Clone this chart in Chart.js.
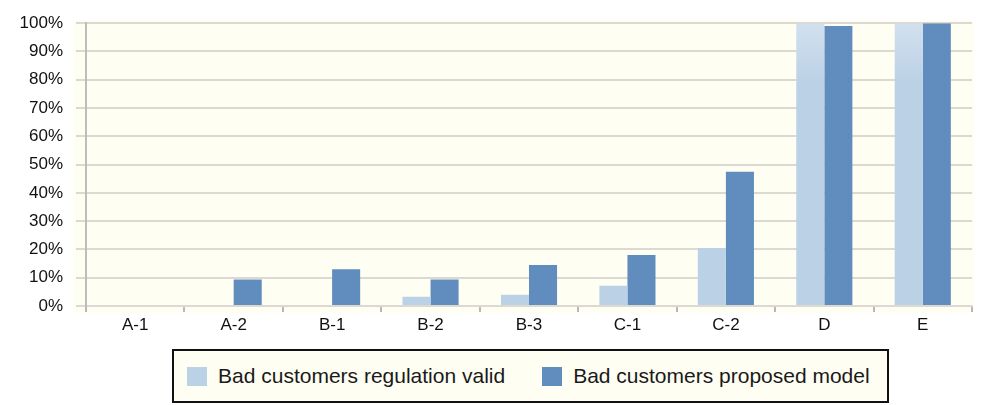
<!DOCTYPE html>
<html>
<head>
<meta charset="utf-8">
<script src="https://cdn.jsdelivr.net/npm/chart.js@4/dist/chart.umd.min.js"></script>
<style>
    html, body { margin: 0; padding: 0; background: #fff; }
    body { width: 983px; height: 405px; position: relative; overflow: hidden; font-family: "Liberation Sans", Arial, Helvetica, sans-serif; }
    .chart-wrap { position: absolute; left: 0; top: 0; width: 983px; height: 340px; }
    .legend-box {
        position: absolute; left: 172px; top: 349px; width: 717px; height: 54px;
        box-sizing: border-box; border: 2px solid #111; background: #fffef3;
        display: flex; align-items: center; padding-left: 13px;
        font-size: 21px; color: #1a1a1a;
    }
    .legend-item { display: flex; align-items: center; margin-right: 37px; white-space: nowrap; }
    .legend-swatch { width: 20px; height: 19px; margin-right: 11px; }
</style>
</head>
<body>
<div class="chart-wrap"><canvas id="ratingChart"></canvas></div>
<div class="legend-box" id="legendBox"></div>

<script>
// ---- data ----
const categories = ['A-1', 'A-2', 'B-1', 'B-2', 'B-3', 'C-1', 'C-2', 'D', 'E'];
const regulationValid = [0, 0, 0, 3.3, 4, 7.2, 20.5, 100, 100];
const proposedModel = [0, 9.4, 13, 9.4, 14.5, 18, 47.5, 99, 100];
const seriesNames = ['Bad customers regulation valid', 'Bad customers proposed model'];
const seriesColors = ['#bbd1e6', '#608dbd'];

// light yellow plot background, a bit wider than the chart area
const plotBackground = {
    id: 'plotBackground',
    beforeDraw(chart) {
        const { ctx, chartArea: a } = chart;
        ctx.save();
        ctx.fillStyle = '#fffef3';
        ctx.fillRect(a.left - 13, a.top - 3, a.right - a.left + 15, a.bottom - a.top + 10);
        ctx.restore();
    }
};

// light bars fade a little towards the top of the plot
function lightFill(context) {
    const chart = context.chart;
    const a = chart.chartArea;
    if (!a) return seriesColors[0];
    const g = chart.ctx.createLinearGradient(0, a.top, 0, a.top + 60);
    g.addColorStop(0, '#d2e0ee');
    g.addColorStop(1, seriesColors[0]);
    return g;
}

const tickFont = { family: '"Liberation Sans", Arial, Helvetica, sans-serif', size: 17 };

new Chart(document.getElementById('ratingChart'), {
    type: 'bar',
    data: {
        labels: categories,
        datasets: [
            { label: seriesNames[0], data: regulationValid, backgroundColor: lightFill, borderWidth: 0 },
            { label: seriesNames[1], data: proposedModel, backgroundColor: seriesColors[1], borderWidth: 0 }
        ]
    },
    options: {
        responsive: true,
        maintainAspectRatio: false,
        animation: false,
        datasets: { bar: { categoryPercentage: 0.57, barPercentage: 1.0 } },
        layout: { padding: { top: 23, right: 11, left: 0, bottom: 0 } },
        plugins: { legend: { display: false }, tooltip: { enabled: false } },
        scales: {
            x: {
                grid: { drawOnChartArea: false, tickLength: 6, color: '#b8b8b8', lineWidth: 2 },
                border: { color: '#dcd9d2', width: 2 },
                ticks: { font: tickFont, color: '#111', padding: 3, maxRotation: 0 },
                afterFit(scale) { scale.height = 34; }
            },
            y: {
                min: 0,
                max: 100,
                grid: { color: '#dcd9d2', lineWidth: 2, tickLength: 10 },
                border: { color: '#bdbdbd', width: 2 },
                ticks: { stepSize: 10, font: tickFont, color: '#111', padding: 13, callback: v => v + '%' },
                afterFit(scale) { scale.width = 86; }
            }
        }
    },
    plugins: [plotBackground]
});

// legend as html, built from the series arrays
document.getElementById('legendBox').innerHTML = seriesNames.map((name, i) => `
    <div class="legend-item">
        <div class="legend-swatch" style="background:${seriesColors[i]}"></div>
        <span>${name}</span>
    </div>`).join('');
</script>
</body>
</html>
